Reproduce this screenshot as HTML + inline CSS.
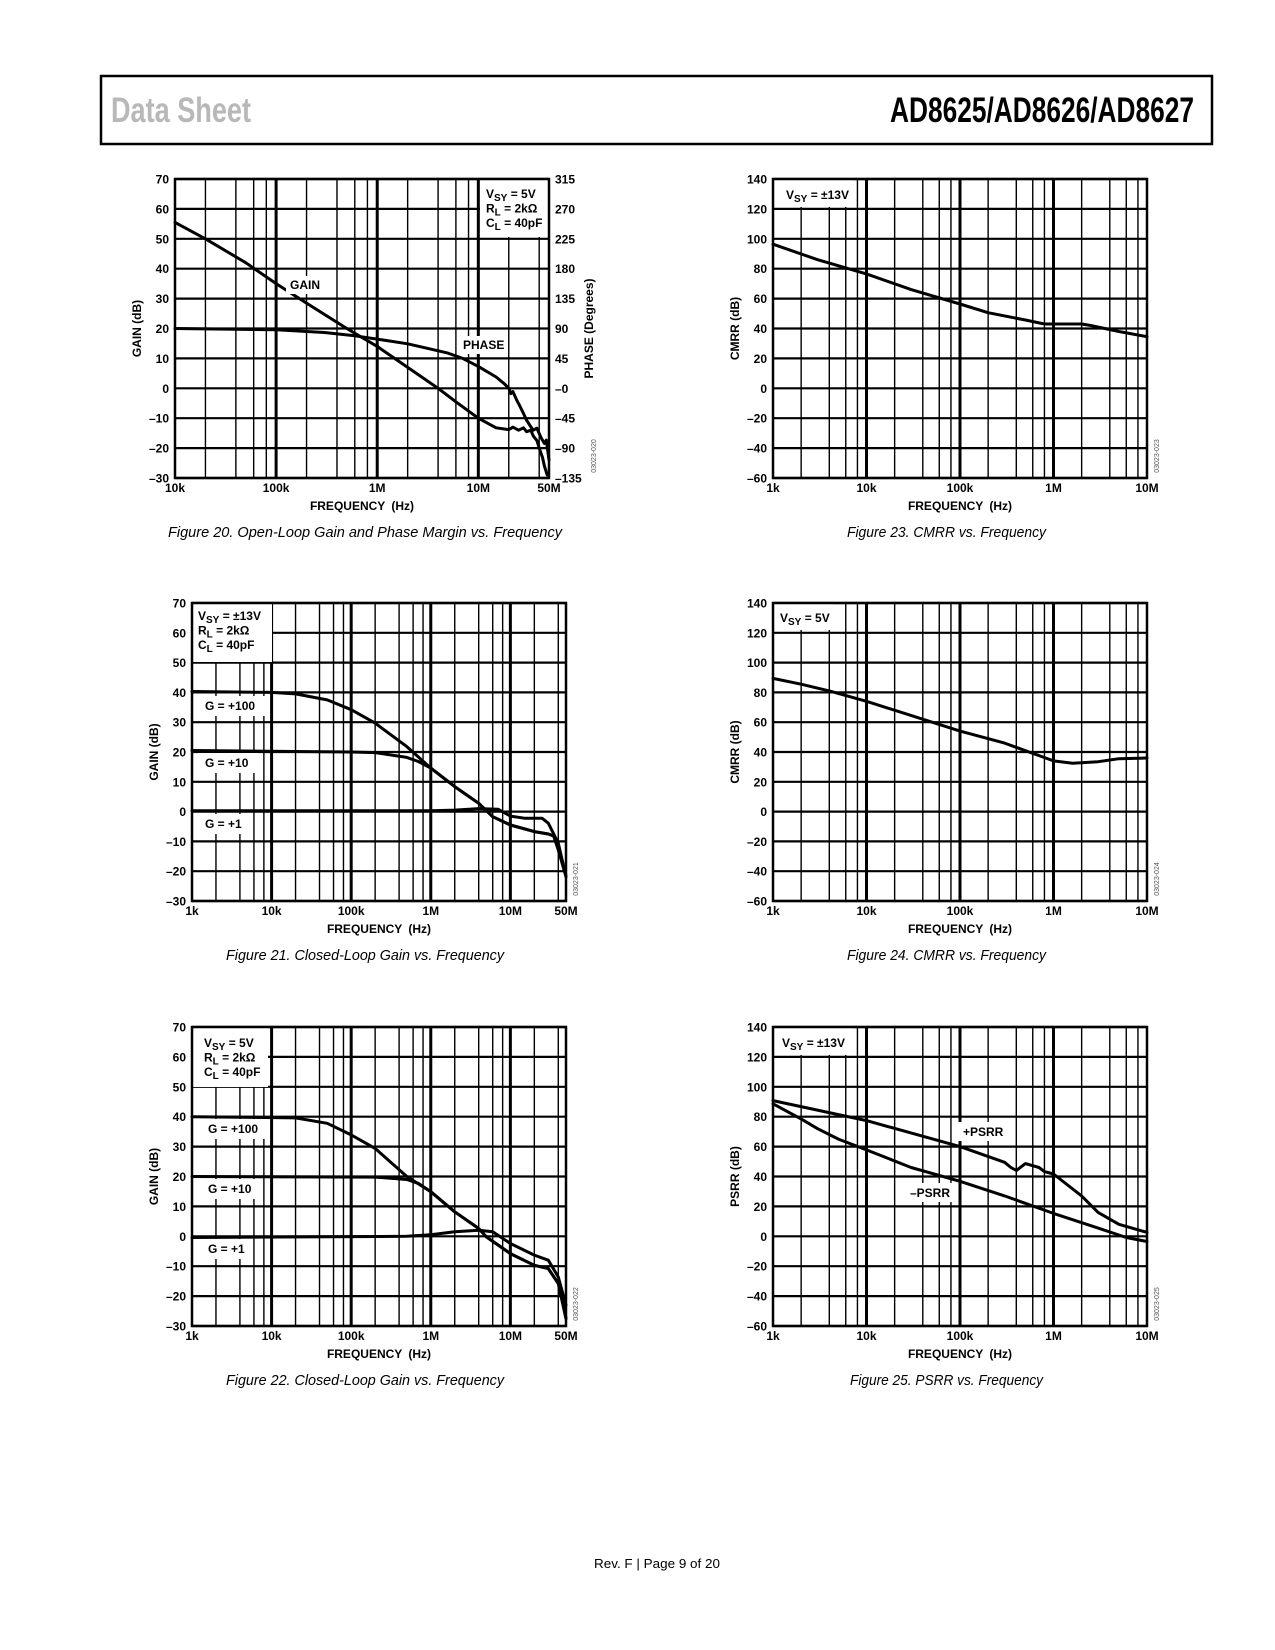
<!DOCTYPE html>
<html><head><meta charset="utf-8"><title>AD8625 Data Sheet p9</title>
<style>
html,body{margin:0;padding:0;background:#fff;}
svg{display:block;font-family:"Liberation Sans",sans-serif;}
</style></head>
<body>
<svg id="page" xmlns="http://www.w3.org/2000/svg" width="1275" height="1650" viewBox="0 0 1275 1650">
<rect x="0" y="0" width="1275" height="1650" fill="#fff"/>
<g>
<rect x="101" y="76" width="1111" height="68" fill="none" stroke="#000" stroke-width="2.5"/>
<text x="111" y="122" font-family="Liberation Sans Narrow, Liberation Sans, sans-serif" font-size="35" font-weight="bold" fill="#b8b8b8" textLength="140" lengthAdjust="spacingAndGlyphs">Data Sheet</text>
<text x="890" y="122" font-family="Liberation Sans Narrow, Liberation Sans, sans-serif" font-size="35" font-weight="bold" fill="#000" textLength="304" lengthAdjust="spacingAndGlyphs">AD8625/AD8626/AD8627</text>
</g>
<g id="charts"></g>
<text x="168" y="537" font-size="15" font-style="italic" textLength="394" lengthAdjust="spacingAndGlyphs">Figure 20. Open-Loop Gain and Phase Margin vs. Frequency</text>
<text x="847" y="537" font-size="15" font-style="italic" textLength="199" lengthAdjust="spacingAndGlyphs">Figure 23. CMRR vs. Frequency</text>
<text x="226" y="960" font-size="15" font-style="italic" textLength="278" lengthAdjust="spacingAndGlyphs">Figure 21. Closed-Loop Gain vs. Frequency</text>
<text x="847" y="960" font-size="15" font-style="italic" textLength="199" lengthAdjust="spacingAndGlyphs">Figure 24. CMRR vs. Frequency</text>
<text x="226" y="1385" font-size="15" font-style="italic" textLength="278" lengthAdjust="spacingAndGlyphs">Figure 22. Closed-Loop Gain vs. Frequency</text>
<text x="850" y="1385" font-size="15" font-style="italic" textLength="193" lengthAdjust="spacingAndGlyphs">Figure 25. PSRR vs. Frequency</text>
<text x="594" y="1568" font-size="13" textLength="126" lengthAdjust="spacingAndGlyphs">Rev. F | Page 9 of 20</text>
</svg>
<script>
// ---- Figure 20 data ----
const fig20GainFreq=[1e4,2e4,5e4,1e5,2e5,5e5,1e6,2e6,4e6,6e6,1e7,1.5e7,2e7,2.2e7,2.5e7,2.8e7,3e7,3.3e7,3.5e7,3.8e7,4e7,4.3e7,4.5e7,4.8e7];
const fig20GainDb=[55.5,50,42,35,28.5,20,14,7,0,-4.5,-10,-13.2,-13.8,-13,-14,-13.2,-14.5,-14,-16,-17.5,-20,-23,-26,-29];
const fig20PhaseFreq=[1e4,1e5,3e5,6e5,1e6,2e6,5e6,7e6,1e7,1.5e7,1.8e7,2e7,2.1e7,2.2e7,2.4e7,2.5e7,2.8e7,3e7,3.3e7,3.5e7,3.8e7,4e7,4.2e7,4.5e7,4.7e7,5e7];
const fig20PhaseDeg=[90,88,84,79,74,67,53,45,33,17,7,0,-8,-5,-18,-23,-38,-48,-58,-63,-60,-68,-75,-83,-78,-108];
const fig20YTicks=[70,60,50,40,30,20,10,0,-10,-20,-30];
const fig20YTickLabels=["70","60","50","40","30","20","10","0","\u201310","\u201320","\u201330"];
const fig20RTickLabels=["315","270","225","180","135","90","45","\u20130","\u201345","\u201390","\u2013135"];
const fig20XTicks=[1e4,1e5,1e6,1e7,5e7];
const fig20XTickLabels=["10k","100k","1M","10M","50M"];
// ---- Figure 21 data ----
const fig21Freq100=[1e3,1e4,2e4,5e4,1e5,2e5,5e5,1e6,2e6,4e6,6e6,1e7,2e7,3e7,3.5e7,4e7,5e7];
const fig21Gain100=[40.3,40,39.5,37.5,34.2,29.7,21.8,14.6,8.4,2.8,-1.7,-4.5,-6.7,-7.5,-8.2,-12.8,-21.8];
const fig21Freq10=[1e3,1e5,2e5,5e5,7e5,1e6,2e6,4e6,6e6,1e7,2e7,3e7,3.5e7,4e7,5e7];
const fig21Gain10=[20.5,20,19.8,18.2,16.8,14.6,8.4,2.8,-1.7,-4.5,-6.7,-7.5,-8.2,-12.8,-21.8];
const fig21Freq1=[1e3,1e6,2e6,4e6,7e6,1e7,1.5e7,2.5e7,3e7,4e7,5e7];
const fig21Gain1=[0.3,0.3,0.5,1.0,0.8,-1.5,-2.2,-2.2,-3.9,-10.6,-21.8];
// ---- Figure 22 data ----
const fig22Freq100=[1e3,2e4,5e4,1e5,2e5,5e5,1e6,2e6,4e6,5e6,1e7,2e7,3e7,4e7,5e7];
const fig22Gain100=[40,39.6,37.8,33.9,29.4,20,14.9,8.2,2.6,-0.2,-5.8,-9.7,-10.8,-15.8,-27.5];
const fig22Freq10=[1e3,2e5,5e5,7e5,1e6,2e6,4e6,5e6,1e7,2e7,3e7,4e7,5e7];
const fig22Gain10=[20,19.8,19,17.7,14.9,8.2,2.6,-0.2,-5.8,-9.7,-10.8,-15.8,-27.5];
const fig22Freq1=[1e3,5e5,1e6,2e6,4e6,6e6,8e6,1e7,2e7,3e7,4e7,5e7];
const fig22Gain1=[-0.4,0,0.5,1.5,2.0,1.5,-0.7,-2.4,-6.3,-8,-13.6,-23];
const closedYTicks=[70,60,50,40,30,20,10,0,-10,-20,-30];
const closedYTickLabels=["70","60","50","40","30","20","10","0","\u201310","\u201320","\u201330"];
const closedXTicks=[1e3,1e4,1e5,1e6,1e7,5e7];
const closedXTickLabels=["1k","10k","100k","1M","10M","50M"];
// ---- Figure 23 data ----
const fig23Freq=[1e3,3e3,1e4,3e4,1e5,2e5,5e5,8e5,1e6,2e6,2.5e6,5e6,1e7];
const fig23Cmrr=[96.4,86,76.5,66,56.4,50.6,45.7,43,43,43,42,38,34.5];
// ---- Figure 24 data ----
const fig24Freq=[1e3,2e3,4e3,1e4,1e5,3e5,1e6,1.6e6,3e6,5e6,1e7];
const fig24Cmrr=[89.4,85.5,81,74,54,46,34,32.5,33.5,35.5,36];
// ---- Figure 25 data ----
const fig25FreqPos=[1e3,1e4,1e5,3e5,3.5e5,4e5,5e5,7e5,8e5,1e6,2e6,3e6,5e6,1e7];
const fig25PosPsrr=[90.8,77.4,60,49.5,46,44,48.6,46,43.3,41.7,27,16,8,2.6];
const fig25FreqNeg=[1e3,2e3,3e3,5e3,1e4,3e4,1e5,3e5,1e6,3e6,6e6,1e7];
const fig25NegPsrr=[88.6,78.5,72,65,57.8,46,36.8,27,15.3,5.5,-0.8,-3.5];
const rrYTicks=[140,120,100,80,60,40,20,0,-20,-40,-60];
const rrYTickLabels=["140","120","100","80","60","40","20","0","\u201320","\u201340","\u201360"];
const rrXTicks=[1e3,1e4,1e5,1e6,1e7];
const rrXTickLabels=["1k","10k","100k","1M","10M"];

const NS="http://www.w3.org/2000/svg";
const root=document.getElementById('charts');
function mk(tag,attrs,parent){const e=document.createElementNS(NS,tag);for(const k in attrs)e.setAttribute(k,attrs[k]);parent.appendChild(e);return e;}

function buildChart(c){
  const g=mk('g',{},root);
  
  
  const W=c.R-c.L,H=c.B-c.T;
  const lmin=Math.log10(c.fmin),lmax=Math.log10(c.fmax);
  const xs=f=>c.L+(Math.log10(f)-lmin)/(lmax-lmin)*W;
  const ys=v=>c.T+(c.ymax-v)/(c.ymax-c.ymin)*H;
  c.xs=xs;c.ys=ys;
  const grid=mk('g',{},g);
  
  
  // vertical grid
  for(let d=Math.floor(lmin);d<=Math.ceil(lmax);d++){
    for(const m of [1,2,4,6,8]){
      const f=m*Math.pow(10,d);
      if(f<=c.fmin*1.0001||f>=c.fmax*0.9999)continue;
      const x=xs(f);
      mk('line',{x1:x,y1:c.T,x2:x,y2:c.B,stroke:'#000','stroke-width':m===1?3:1.4},grid);
    }
  }
  // horizontal grid
  c.yTicks.forEach(v=>{const y=ys(v);mk('line',{x1:c.L,y1:y,x2:c.R,y2:y,stroke:'#000','stroke-width':2.2},grid);});
  // white boxes
  (c.boxes||[]).forEach(b=>{const r=mk('rect',{x:b[0],y:b[1],width:b[2]-b[0],height:b[3]-b[1],fill:'#fff'},g);
    
    });
  const fr=mk('rect',{x:c.L,y:c.T,width:W,height:H,fill:'none',stroke:'#000','stroke-width':2.5},g);
  
  
  // series
  c.series.forEach(s=>{
    const yf=s.yfn||ys;
    const d=s.f.map((f,i)=>(i?'L':'M')+xs(f).toFixed(1)+','+yf(s.v[i]).toFixed(1)).join(' ');
    const p=mk('path',{d:d,fill:'none',stroke:'#000','stroke-width':3,'stroke-linejoin':'round','stroke-linecap':'round'},g);
    
    
  });
  // y tick labels
  c.yTicks.forEach((v,i)=>{const t=mk('text',{x:c.L-6,y:ys(v)+4.5,'text-anchor':'end','font-size':12,'font-weight':'bold'},g);t.textContent=c.yLabels[i];
    
    });
  if(c.rLabels){c.yTicks.forEach((v,i)=>{const t=mk('text',{x:c.R+6,y:ys(v)+4.5,'font-size':12,'font-weight':'bold'},g);t.textContent=c.rLabels[i];
    
    });}
  c.xTicks.forEach((f,i)=>{const t=mk('text',{x:xs(f),y:c.B+14,'text-anchor':'middle','font-size':12,'font-weight':'bold'},g);t.textContent=c.xLabels[i];
    
    });
  const xt=mk('text',{x:(c.L+c.R)/2,y:c.B+32,'text-anchor':'middle','font-size':12,'font-weight':'bold','word-spacing':'3'},g);
  xt.textContent='FREQUENCY (Hz)';
  
  
  const yx=c.L-38,yy=(c.T+c.B)/2;
  const yt=mk('text',{x:yx,y:yy,'text-anchor':'middle','dominant-baseline':'central','font-size':12,'font-weight':'bold',transform:'rotate(-90 '+yx+' '+yy+')'},g);
  yt.textContent=c.ytitle;
  
  
  if(c.rtitle){const rx=c.R+40;const rt=mk('text',{x:rx,y:yy,'text-anchor':'middle','dominant-baseline':'central','font-size':12,'font-weight':'bold',transform:'rotate(-90 '+rx+' '+yy+')'},g);rt.textContent=c.rtitle;
    
    }
  const sx=c.R+(c.rLabels?47:12),sy=c.B-22;
  const st=mk('text',{x:sx,y:sy,'text-anchor':'middle','font-size':7,fill:'#555',transform:'rotate(-90 '+sx+' '+sy+')'},g);
  st.textContent=c.serial;
  
  
  // annotation texts
  (c.texts||[]).forEach(a=>{
    if(a.bg){const r=mk('rect',{x:a.bg[0],y:a.bg[1],width:a.bg[2]-a.bg[0],height:a.bg[3]-a.bg[1],fill:'#fff'},g);
      
      }
    const t=mk('text',{x:a.x,y:a.y,'font-size':12,'font-weight':'bold'},g);
    
    
    if(a.sub){const t1=mk('tspan',{},t);t1.textContent=a.pre;const t2=mk('tspan',{dy:3,'font-size':10},t);t2.textContent=a.sub;const t3=mk('tspan',{dy:-3},t);t3.textContent=a.post;}
    else t.textContent=a.text;
  });
  return c;
}
function legend(x,y1,vsy,extra){
  const arr=[{name:'legend-vsy',x:x,y:y1,pre:'V',sub:'SY',post:' = '+vsy}];
  if(extra){arr.push({name:'legend-rl',x:x,y:y1+14.5,pre:'R',sub:'L',post:' = 2k\u03A9'});
    arr.push({name:'legend-cl',x:x,y:y1+29,pre:'C',sub:'L',post:' = 40pF'});}
  return arr;
}
const ph2y=(T,B)=>p=>T+(315-p)/450*(B-T);

// Figure 20
buildChart({name:'chart-fig20-open-loop-gain',L:175,T:179,R:549,B:478,fmin:1e4,fmax:5e7,ymin:-30,ymax:70,
  yTicks:fig20YTicks,yLabels:fig20YTickLabels,rLabels:fig20RTickLabels,xTicks:fig20XTicks,xLabels:fig20XTickLabels,
  ytitle:'GAIN (dB)',rtitle:'PHASE (Degrees)',serial:'03023-020',
  boxes:[[480,180,548,237]],
  series:[{name:'gain-curve',f:fig20GainFreq,v:fig20GainDb},{name:'phase-curve',f:fig20PhaseFreq,v:fig20PhaseDeg,yfn:ph2y(179,478)}],
  texts:legend(486,198,'5V',true).concat([
    {name:'gain-label',x:290,y:289,text:'GAIN',bg:[286,276,326,294]},
    {name:'phase-label',x:463,y:349,text:'PHASE',bg:[459,336,507,354]}])});
// Figure 23
buildChart({name:'chart-fig23-cmrr',L:773,T:179,R:1147,B:478,fmin:1e3,fmax:1e7,ymin:-60,ymax:140,
  yTicks:rrYTicks,yLabels:rrYTickLabels,xTicks:rrXTicks,xLabels:rrXTickLabels,ytitle:'CMRR (dB)',serial:'03023-023',
  boxes:[[774,180,853,207]],
  series:[{name:'cmrr-curve',f:fig23Freq,v:fig23Cmrr}],
  texts:legend(786,199,'\u00B113V',false)});
// Figure 21
buildChart({name:'chart-fig21-closed-loop-gain',L:192,T:603,R:566,B:901,fmin:1e3,fmax:5e7,ymin:-30,ymax:70,
  yTicks:closedYTicks,yLabels:closedYTickLabels,xTicks:closedXTicks,xLabels:closedXTickLabels,ytitle:'GAIN (dB)',serial:'03023-021',
  boxes:[[193,604,272,662]],
  series:[{name:'gain-100-curve',f:fig21Freq100,v:fig21Gain100},{name:'gain-10-curve',f:fig21Freq10,v:fig21Gain10},{name:'gain-1-curve',f:fig21Freq1,v:fig21Gain1}],
  texts:legend(198,620,'\u00B113V',true).concat([
    {name:'g100-label',x:205,y:710,text:'G = +100',bg:[198,696,265,716]},
    {name:'g10-label',x:205,y:767,text:'G = +10',bg:[198,753,258,773]},
    {name:'g1-label',x:205,y:828,text:'G = +1',bg:[198,814,248,834]}])});
// Figure 24
buildChart({name:'chart-fig24-cmrr',L:773,T:603,R:1147,B:901,fmin:1e3,fmax:1e7,ymin:-60,ymax:140,
  yTicks:rrYTicks,yLabels:rrYTickLabels,xTicks:rrXTicks,xLabels:rrXTickLabels,ytitle:'CMRR (dB)',serial:'03023-024',
  boxes:[[774,604,833,630]],
  series:[{name:'cmrr-curve',f:fig24Freq,v:fig24Cmrr}],
  texts:legend(780,622,'5V',false)});
// Figure 22
buildChart({name:'chart-fig22-closed-loop-gain',L:192,T:1027,R:566,B:1326,fmin:1e3,fmax:5e7,ymin:-30,ymax:70,
  yTicks:closedYTicks,yLabels:closedYTickLabels,xTicks:closedXTicks,xLabels:closedXTickLabels,ytitle:'GAIN (dB)',serial:'03023-022',
  boxes:[[193,1028,268,1087]],
  series:[{name:'gain-100-curve',f:fig22Freq100,v:fig22Gain100},{name:'gain-10-curve',f:fig22Freq10,v:fig22Gain10},{name:'gain-1-curve',f:fig22Freq1,v:fig22Gain1}],
  texts:legend(204,1047,'5V',true).concat([
    {name:'g100-label',x:208,y:1133,text:'G = +100',bg:[201,1119,268,1139]},
    {name:'g10-label',x:208,y:1193,text:'G = +10',bg:[201,1179,261,1199]},
    {name:'g1-label',x:208,y:1253,text:'G = +1',bg:[201,1239,251,1259]}])});
// Figure 25
buildChart({name:'chart-fig25-psrr',L:773,T:1027,R:1147,B:1326,fmin:1e3,fmax:1e7,ymin:-60,ymax:140,
  yTicks:rrYTicks,yLabels:rrYTickLabels,xTicks:rrXTicks,xLabels:rrXTickLabels,ytitle:'PSRR (dB)',serial:'03023-025',
  boxes:[[774,1028,852,1055]],
  series:[{name:'pos-psrr-curve',f:fig25FreqPos,v:fig25PosPsrr},{name:'neg-psrr-curve',f:fig25FreqNeg,v:fig25NegPsrr}],
  texts:legend(782,1047,'\u00B113V',false).concat([
    {name:'pos-psrr-label',x:963,y:1136,text:'+PSRR',bg:[958,1122,1008,1141]},
    {name:'neg-psrr-label',x:910,y:1197,text:'\u2013PSRR',bg:[905,1183,955,1202]}])});
</script>
</body></html>
